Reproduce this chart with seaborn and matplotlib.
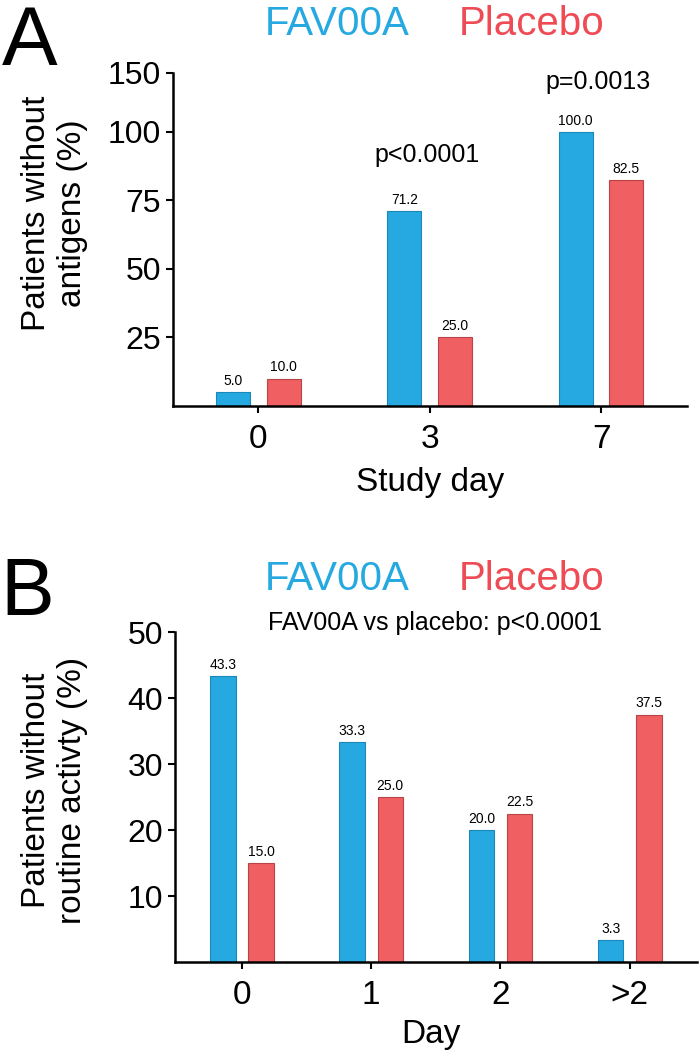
import numpy as np
import pandas as pd
import matplotlib
matplotlib.use("Agg")
import matplotlib.pyplot as plt
import seaborn as sns

# ---------------- data ----------------
groups = ["FAV00A", "Placebo"]
a_days = ["0", "3", "7"]
a_fav = [5.0, 71.2, 100.0]
a_pla = [10.0, 25.0, 82.5]
a_yticks = [25, 50, 75, 100, 121.5]
a_yticklabels = ["25", "50", "75", "100", "150"]
a_pvals = ["p<0.0001", "p=0.0013"]

b_days = ["0", "1", "2", ">2"]
b_fav = [43.3, 33.3, 20.0, 3.3]
b_pla = [15.0, 25.0, 22.5, 37.5]
b_yticks = [10, 20, 30, 40, 50]
b_subtitle = "FAV00A vs placebo: p<0.0001"

BLUE = "#25A9E0"
RED = "#F05F62"
BLUE_EDGE = "#1B86B8"
RED_EDGE = "#B84448"

sns.set_style("ticks")
plt.rcParams["font.family"] = ["Liberation Sans", "DejaVu Sans"]
plt.rcParams["axes.linewidth"] = 1.8
for key in ["text.color", "axes.labelcolor", "xtick.color", "ytick.color",
            "axes.edgecolor"]:
    plt.rcParams[key] = "black"

fig = plt.figure(figsize=(7.0, 10.61), dpi=100)
W, H = 700.0, 1061.0

def axes_px(l, t, r, b):
    return fig.add_axes([l / W, 1 - b / H, (r - l) / W, (b - t) / H])

axA = axes_px(172.7, 73, 686.7, 406)
axB = axes_px(174.7, 632, 697, 962)

def draw(ax, days, fav, pla):
    df = pd.DataFrame({
        "day": days * 2,
        "pct": fav + pla,
        "group": [groups[0]] * len(days) + [groups[1]] * len(days),
    })
    sns.barplot(data=df, x="day", y="pct", hue="group", order=days,
                hue_order=groups, palette=[BLUE, RED], width=0.59, gap=0.33,
                legend=False, ax=ax, linewidth=0.8, edgecolor="#999999",
                saturation=1)
    for cont, ec in zip(ax.containers, [BLUE_EDGE, RED_EDGE]):
        for p in cont:
            p.set_edgecolor(ec)
        ax.bar_label(cont, fmt="%.1f", fontsize=10, padding=3, color="black")
    sns.despine(ax=ax)
    ax.tick_params(axis="both", length=5, width=1.5, color="black",
                   labelcolor="black")
    ax.tick_params(axis="y", labelsize=23, pad=3.5)
    ax.tick_params(axis="x", labelsize=24, pad=8)
    ax.set_xlim(-0.5, len(days) - 0.5)

# ---- Panel A ----
draw(axA, a_days, a_fav, a_pla)
axA.set_ylim(0, 121.5)
axA.set_yticks(a_yticks)
axA.set_yticklabels(a_yticklabels)
axA.set_ylabel("Patients without\nantigens (%)", fontsize=24)
axA.set_xlabel("Study day", fontsize=24, va="top")
axA.yaxis.set_label_coords(-0.165, 0.58)
axA.xaxis.set_label_coords(0.5, -0.183)
axA.text(0.987, 89.2, a_pvals[0], fontsize=18, ha="center", va="baseline")
axA.text(1.98, 115.7, a_pvals[1], fontsize=18, ha="center", va="baseline")

# ---- Panel B ----
draw(axB, b_days, b_fav, b_pla)
axB.set_xlim(-0.52, len(b_days) - 0.48)
axB.set_ylim(0, 50)
axB.set_yticks(b_yticks)
axB.set_ylabel("Patients without\nroutine activty (%)", fontsize=24)
axB.set_xlabel("Day", fontsize=24, va="top")
axB.yaxis.set_label_coords(-0.166, 0.52)
axB.xaxis.set_label_coords(0.49, -0.173)

# ---- panel letters, legends, subtitle ----
fig.text(0.003, 1 - 65 / H, "A", fontsize=60, ha="left", va="baseline")
fig.text(0.0, 1 - 615 / H, "B", fontsize=58, ha="left", va="baseline")

for base in (35, 590):
    fig.text(265 / W, 1 - base / H, groups[0], fontsize=29, color=BLUE,
             ha="left", va="baseline")
    fig.text(459 / W, 1 - base / H, groups[1], fontsize=29, color="#EE4B55",
             ha="left", va="baseline")

fig.text(268 / W, 1 - 630 / H, b_subtitle, fontsize=18, ha="left",
         va="baseline")

fig.savefig("out.png", dpi=100)
